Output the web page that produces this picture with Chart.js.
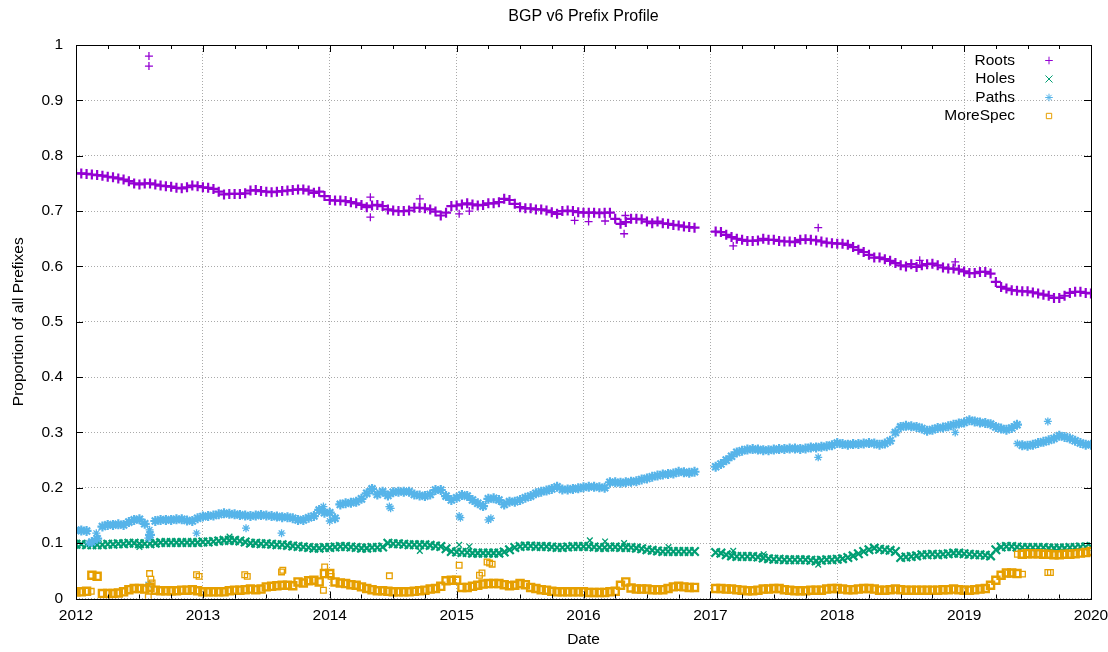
<!DOCTYPE html>
<html>
<head>
<meta charset="utf-8">
<title>BGP v6 Prefix Profile</title>
<script src="https://cdn.jsdelivr.net/npm/chart.js@4.4.1/dist/chart.umd.min.js"></script>
<style>
  body { margin: 0; background: #fff; }
  canvas { display: block; }
</style>
</head>
<body>
<canvas id="chart" width="1108" height="652"></canvas>
<script>
// sample dates: half-month steps, 2012.0 .. 2020.0 (193 samples)
const dates = [];
for (let i = 0; i <= 192; i++) dates.push(2012 + i / 24);

const roots = [
  .768,.768,.767,.766,.765,.764,.762,.761,.759,.757,.754,.750,.748,.750,.750,.748,.746,.745,.744,.742,.741,.743,.746,.745,
  .743,.742,.740,.735,.730,.731,.731,.731,.732,.737,.738,.736,.735,.734,.735,.736,.737,.738,.739,.739,.737,.733,.735,.727,
  .720,.719,.719,.718,.716,.714,.711,.707,.710,.711,.709,.703,.701,.700,.700,.701,.706,.706,.705,.703,.699,.692,.697,.709,
  .710,.712,.714,.712,.710,.711,.714,.714,.716,.722,.720,.713,.707,.705,.705,.703,.703,.701,.698,.695,.700,.701,.700,.698,
  .697,.697,.697,.696,.697,.697,.686,.677,.680,.686,.686,.685,.681,.678,.681,.678,.677,.675,.674,.672,.671,.670,null,null,
  null,.663,.662,.657,.653,.650,.648,.646,.646,.647,.650,.648,.648,.646,.645,.645,.644,.648,.649,.648,.647,.645,.643,.642,
  .641,.641,.639,.635,.630,.626,.621,.616,.616,.613,.610,.606,.602,.600,.604,.599,.602,.604,.605,.602,.598,.596,.596,.594,
  .591,.588,.588,.590,.590,.587,.572,.563,.560,.557,.556,.555,.555,.553,.551,.549,.547,.543,.543,.547,.552,.554,.554,.552,.551
];
const holes = [
  .098,.098,.097,.097,.097,.097,.098,.098,.099,.099,.100,.100,.099,.099,.099,.100,.101,.101,.101,.101,.101,.101,.101,.101,
  .102,.102,.103,.104,.105,.105,.105,.104,.102,.100,.100,.099,.099,.098,.097,.097,.096,.095,.094,.093,.092,.091,.091,.092,
  .092,.093,.094,.094,.093,.092,.091,.091,.092,.092,.093,.100,.099,.099,.098,.097,.097,.097,.097,.096,.095,.094,.090,.085,
  .084,.083,.083,.082,.082,.082,.082,.082,.082,.084,.088,.092,.094,.095,.095,.094,.094,.094,.093,.092,.092,.093,.094,.094,
  .094,.094,.093,.092,.092,.093,.093,.092,.092,.092,.091,.090,.088,.087,.086,.085,.085,.085,.085,.085,.085,.085,null,null,
  null,.083,.082,.079,.077,.076,.076,.076,.076,.075,.073,.072,.071,.071,.070,.070,.070,.070,.070,.069,.068,.069,.070,.070,
  .071,.072,.074,.077,.081,.085,.088,.091,.089,.088,.087,.085,.074,.075,.076,.077,.079,.079,.080,.079,.080,.081,.082,.082,
  .081,.080,.079,.079,.078,.077,.088,.093,.094,.094,.093,.092,.092,.092,.092,.092,.091,.091,.091,.091,.092,.092,.093,.093,.094
];
const paths = [
  .123,.123,.122,.102,.108,.130,.133,.133,.134,.133,.138,.142,.143,.135,.115,.140,.142,.142,.142,.143,.143,.141,.140,.145,
  .148,.149,.150,.152,.154,.153,.152,.151,.150,.149,.150,.151,.150,.149,.148,.147,.147,.145,.142,.142,.146,.149,.160,.155,
  .155,.145,.170,.172,.173,.175,.180,.190,.198,.188,.193,.186,.192,.193,.193,.193,.188,.186,.185,.188,.196,.196,.185,.178,
  .182,.187,.185,.178,.172,.167,.180,.181,.178,.170,.175,.175,.178,.182,.185,.190,.193,.195,.198,.202,.197,.197,.198,.199,
  .201,.202,.202,.201,.200,.210,.210,.209,.210,.211,.212,.215,.217,.220,.222,.224,.225,.226,.229,.228,.227,.229,null,null,
  null,.238,.243,.250,.257,.264,.267,.269,.270,.269,.268,.268,.269,.270,.270,.271,.271,.270,.271,.273,.273,.274,.275,.277,
  .281,.279,.278,.279,.279,.280,.281,.280,.278,.280,.285,.300,.310,.312,.311,.310,.307,.303,.305,.308,.309,.311,.314,.316,
  .318,.322,.320,.318,.317,.315,.310,.307,.305,.308,.314,.277,.276,.278,.281,.283,.286,.289,.294,.292,.289,.285,.281,.278,.278
];
const moreSpec = [
  .012,.012,.013,.042,.040,.009,.009,.009,.010,.012,.016,.018,.018,.017,.020,.015,.014,.014,.014,.014,.015,.015,.016,.014,
  .012,.012,.012,.012,.012,.014,.015,.015,.016,.017,.016,.017,.021,.022,.023,.024,.024,.023,.030,.028,.032,.033,.030,.045,
  .045,.030,.028,.027,.025,.024,.021,.018,.016,.014,.014,.013,.012,.012,.012,.012,.013,.014,.015,.017,.018,.022,.032,.033,
  .033,.020,.020,.022,.024,.026,.027,.027,.027,.025,.023,.024,.027,.025,.020,.018,.016,.015,.013,.012,.012,.012,.012,.012,
  .012,.011,.011,.011,.011,.012,.013,.024,.030,.019,.017,.017,.017,.016,.016,.016,.018,.021,.022,.021,.020,.020,null,null,
  null,.018,.018,.017,.017,.016,.015,.014,.014,.015,.017,.017,.018,.018,.016,.015,.014,.014,.014,.015,.015,.015,.017,.018,
  .018,.017,.016,.016,.017,.018,.018,.017,.015,.015,.016,.017,.016,.015,.015,.015,.015,.015,.015,.015,.016,.016,.017,.016,
  .015,.015,.016,.017,.018,.024,.033,.042,.046,.046,.045,.080,.081,.081,.081,.080,.080,.079,.079,.080,.080,.081,.082,.083,.085
];

// stray samples away from the main band: [year, value]
const rootsOut = [[2012.575,.980],[2012.575,.962],[2014.32,.689],[2014.32,.725],[2014.71,.722],[2015.02,.695],
  [2015.10,.700],[2015.93,.683],[2016.04,.681],[2016.17,.682],[2016.32,.659],[2016.33,.692],[2017.18,.637],
  [2017.85,.670],[2018.65,.611],[2018.93,.608]];
const holesOut = [[2012.5,.093],[2013.21,.112],[2014.71,.086],[2015.02,.097],[2015.10,.094],[2016.05,.105],
  [2016.17,.103],[2016.32,.100],[2016.67,.093],[2017.18,.086],[2017.42,.080],[2017.85,.061]];
const pathsOut = [[2012.10,.100],[2012.16,.118],[2012.57,.109],[2012.58,.124],[2012.57,.025],[2012.95,.118],
  [2013.34,.127],[2013.62,.118],[2013.95,.166],[2014.0,.140],[2014.47,.166],[2014.48,.163],[2015.02,.149],
  [2015.03,.146],[2015.25,.142],[2015.27,.145],[2017.85,.255],[2018.93,.300],[2019.42,.280],[2019.66,.320]];
const moreSpecOut = [[2012.12,.013],[2012.57,.003],[2012.58,.045],[2012.59,.035],[2012.60,.028],[2012.95,.043],
  [2012.97,.040],[2013.33,.043],[2013.35,.040],[2013.62,.048],[2013.63,.051],[2013.95,.015],[2013.96,.057],
  [2014.01,.040],[2014.47,.041],[2015.02,.060],[2015.18,.042],[2015.20,.046],[2015.24,.066],[2015.26,.064],
  [2015.28,.062],[2019.42,.080],[2019.46,.044],[2019.66,.047],[2019.68,.047]];

const yearTicks = [2012, 2013, 2014, 2015, 2016, 2017, 2018, 2019, 2020];

const FONT = '"Liberation Sans", Arial, Helvetica, sans-serif';
Chart.defaults.font.family = FONT;
Chart.defaults.font.size = 15.5;
Chart.defaults.color = '#000';

const series = [
  { label: 'Roots', color: '#9400d3', shape: 'cross', r: 5, w: 2.2, main: roots, out: rootsOut },
  { label: 'Holes', color: '#009e73', shape: 'crossRot', r: 6, w: 2.2, main: holes, out: holesOut },
  { label: 'Paths', color: '#56b4e9', shape: 'star', r: 5, w: 2.2, main: paths, out: pathsOut },
  { label: 'MoreSpec', color: '#e69f00', shape: 'rect', r: 5, w: 2.4, main: moreSpec, out: moreSpecOut }
];

function toPoints(vals) {
  const out = [];
  vals.forEach((v, i) => { if (v !== null) out.push({ x: dates[i], y: v }); });
  return out;
}

const datasets = [];
series.forEach((s, k) => {
  const common = {
    label: s.label,
    pointStyle: s.shape,
    pointRadius: s.r,
    pointBorderWidth: s.w,
    borderColor: s.color,
    backgroundColor: 'rgba(0,0,0,0)',
    showLine: false,
    order: 10 - k
  };
  datasets.push(Object.assign({ data: toPoints(s.main) }, common));
  // strays are drawn thinner, like single gnuplot points
  datasets.push(Object.assign({}, common, { data: s.out.map(p => ({ x: p[0], y: p[1] })), pointRadius: 4, pointBorderWidth: 1.3 }));
});

// gnuplot style frame: title over the plot, border box, inward ticks on all sides, key top right
const framePlugin = {
  id: 'frame',
  afterDatasetsDraw(chart) {
    const { ctx, chartArea: a, scales: { x, y } } = chart;
    ctx.save();
    ctx.fillStyle = '#000';
    ctx.font = '16px ' + FONT;
    ctx.textAlign = 'center';
    ctx.textBaseline = 'middle';
    ctx.fillText('BGP v6 Prefix Profile', (a.left + a.right) / 2, 17);

    ctx.strokeStyle = '#000';
    ctx.lineWidth = 1;
    ctx.beginPath();
    yearTicks.forEach((yr, i) => {
      const px = Math.round(x.getPixelForValue(yr)) + 0.5;
      ctx.moveTo(px, a.bottom); ctx.lineTo(px, a.bottom - 7);
      ctx.moveTo(px, a.top); ctx.lineTo(px, a.top + 7);
      if (i < yearTicks.length - 1) {
        for (let q = 1; q < 4; q++) {
          const mx = Math.round(x.getPixelForValue(yr + q / 4)) + 0.5;
          ctx.moveTo(mx, a.bottom); ctx.lineTo(mx, a.bottom - 4);
          ctx.moveTo(mx, a.top); ctx.lineTo(mx, a.top + 4);
        }
      }
    });
    y.ticks.forEach(t => {
      const py = Math.round(y.getPixelForValue(t.value)) + 0.5;
      ctx.moveTo(a.left, py); ctx.lineTo(a.left + 7, py);
      ctx.moveTo(a.right, py); ctx.lineTo(a.right - 7, py);
    });
    ctx.stroke();
    ctx.strokeRect(Math.round(a.left) + 0.5, Math.round(a.top) + 0.5,
      Math.round(a.width), Math.round(a.height));

    // key
    ctx.font = '15.5px ' + FONT;
    ctx.textAlign = 'right';
    series.forEach((s, i) => {
      const ly = 60.5 + i * 18.5;
      ctx.fillStyle = '#000';
      ctx.fillText(s.label, 1015, ly);
      ctx.strokeStyle = s.color;
      ctx.fillStyle = 'rgba(0,0,0,0)';
      ctx.lineWidth = 1;
      Chart.helpers.drawPoint(ctx, { pointStyle: s.shape, radius: s.shape === 'crossRot' ? 5 : 3.8, rotation: 0, borderWidth: 1 }, 1049, ly);
    });
    ctx.restore();
  }
};

new Chart(document.getElementById('chart'), {
  type: 'scatter',
  data: { datasets: datasets },
  options: {
    responsive: false,
    animation: false,
    layout: { padding: { left: 0, right: 17, top: 45, bottom: 0 } },
    plugins: {
      legend: { display: false },
      tooltip: { enabled: false },
      title: { display: false }
    },
    scales: {
      x: {
        type: 'linear',
        min: 2012,
        max: 2020,
        afterFit(scale) { scale.height = 53.5; scale.paddingLeft = 0; scale.paddingRight = 0; },
        afterBuildTicks(scale) { scale.ticks = yearTicks.map(v => ({ value: v })); },
        ticks: { autoSkip: false, maxRotation: 0, padding: 8, callback: v => String(v) },
        grid: { color: '#aaaaaa', lineWidth: 1, drawTicks: false },
        border: { display: false, dash: [1, 2] },
        title: { display: true, text: 'Date', padding: { top: 0, bottom: 3 } }
      },
      y: {
        min: 0,
        max: 1,
        afterFit(scale) { scale.width = 76; scale.paddingTop = 0; scale.paddingBottom = 0; },
        ticks: { stepSize: 0.1, padding: 13, callback: v => String(Math.round(v * 10) / 10) },
        grid: { color: '#aaaaaa', lineWidth: 1, drawTicks: false },
        border: { display: false, dash: [1, 2] },
        title: { display: true, text: 'Proportion of all Prefixes', padding: { top: 9, bottom: 0 } }
      }
    }
  },
  plugins: [framePlugin]
});
</script>
</body>
</html>
